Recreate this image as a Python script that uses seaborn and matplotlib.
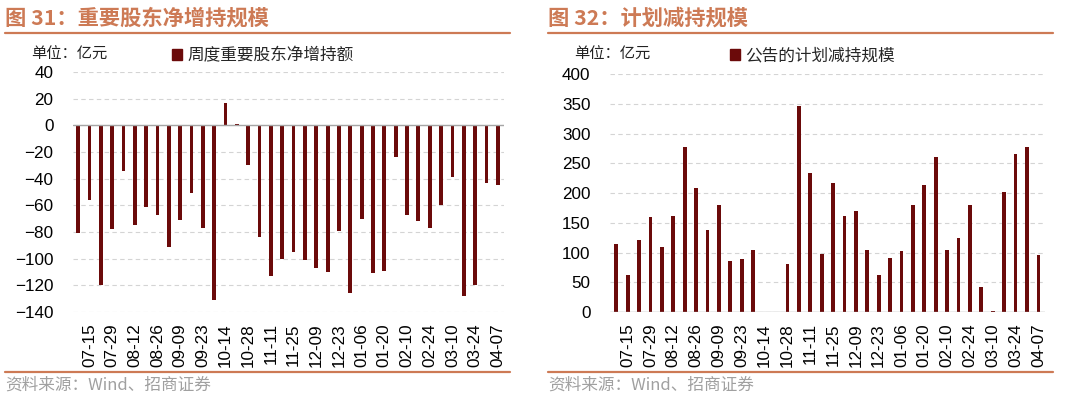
"""
Two panels: weekly net increase by major shareholders, and announced planned reductions.
"""

import numpy as np
import pandas as pd
import matplotlib.pyplot as plt
import seaborn as sns
from matplotlib.patches import Patch
from matplotlib.lines import Line2D

weeks = ["07-08", "07-15", "07-22", "07-29", "08-05", "08-12", "08-19", "08-26",
         "09-02", "09-09", "09-16", "09-23", "09-30", "10-14", "10-21", "10-28",
         "11-04", "11-11", "11-18", "11-25", "12-02", "12-09", "12-16", "12-23",
         "12-30", "01-06", "01-13", "01-20", "02-03", "02-10", "02-17", "02-24",
         "03-03", "03-10", "03-17", "03-24", "03-31", "04-07"]

# 周度重要股东净增持额 (亿元)
net_increase = [-81, -56, -120, -78, -34, -75, -61, -67, -91, -71, -51, -77, -131,
                17, 1, -30, -84, -113, -100, -95, -101, -107, -110, -79, -126,
                -70, -111, -109, -24, -67, -72, -77, -60, -39, -128, -120, -43, -45]

# 公告的计划减持规模 (亿元)
planned_reduce = [115, 62, 121, 159, 110, 162, 278, 209, 138, 180, 86, 89, 105,
                  0, 0, 81, 346, 234, 98, 217, 161, 170, 104, 63, 90, 102, 180,
                  213, 261, 105, 125, 180, 42, 1, 201, 265, 277, 96]

titles = ["图 31：重要股东净增持规模", "图 32：计划减持规模"]
legends = ["周度重要股东净增持额", "公告的计划减持规模"]
unit = "单位：亿元"
source = "资料来源：Wind、招商证券"

BAR = "#6B0A0A"
ACCENT = "#CD7A55"
GRID = "#D4D4D4"
CJK = ["Noto Sans CJK SC", "DejaVu Sans"]

sns.set_theme(style="white")
plt.rcParams["font.family"] = ["Liberation Sans", "Noto Sans CJK SC", "DejaVu Sans"]

fig = plt.figure(figsize=(10.8, 3.99), dpi=100)

panels = [
    dict(vals=net_increase, rect=[73 / 1080, 0.218, 431 / 1080, 0.6015],
         ylim=(-140, 40), yticks=range(-140, 41, 20), xlim=(-0.45, 37.55),
         x0=5, leg_x=172),
    dict(vals=planned_reduce, rect=[610 / 1080, 0.218, 435 / 1080, 0.5965],
         ylim=(0, 400), yticks=range(0, 401, 50), xlim=(-0.55, 37.58),
         x0=548, leg_x=730),
]

for i, p in enumerate(panels):
    ax = fig.add_axes(p["rect"])
    df = pd.DataFrame({"week": weeks, "value": p["vals"]})
    sns.barplot(data=df, x="week", y="value", color=BAR, width=0.33,
                saturation=1, linewidth=0, ax=ax)
    ax.set_ylim(*p["ylim"])
    ax.set_xlim(*p["xlim"])
    ax.set_yticks(list(p["yticks"]))
    ax.yaxis.grid(True, color=GRID, linestyle=(0, (4, 3)), linewidth=0.8)
    ax.set_axisbelow(True)
    for s in ax.spines.values():
        s.set_visible(False)
    ax.axhline(0, color="#A6A6A6", linewidth=1.0, zorder=1)
    ax.set_xticks(range(1, len(weeks), 2))
    ax.set_xticklabels(weeks[1::2], rotation=90)
    ax.tick_params(axis="x", length=0, pad=8, labelsize=12.3, colors="#000000")
    ax.tick_params(axis="y", length=0, pad=14, labelsize=12.3, colors="#000000")
    ax.set_xlabel("")
    ax.set_ylabel("")

    # header, rules and source
    x0 = p["x0"]
    fig.text(x0 / 1080, 1 - 18 / 399, titles[i], color=ACCENT, fontsize=15.3,
             fontweight="bold", family=CJK, va="center", ha="left")
    fig.add_artist(Line2D([x0 / 1080, (x0 + 505) / 1080], [1 - 33 / 399] * 2,
                          color=ACCENT, linewidth=1.6))
    fig.add_artist(Line2D([x0 / 1080, (x0 + 505) / 1080], [1 - 372 / 399] * 2,
                          color=ACCENT, linewidth=1.6))
    fig.text(x0 / 1080, 1 - 385 / 399, source, color="#A0A0A0", fontsize=12,
             family=CJK, va="center", ha="left")
    fig.text((x0 + 26) / 1080, 1 - 54 / 399, unit, color="#222222", fontsize=11,
             family=CJK, va="center", ha="left")
    leg = fig.legend(handles=[Patch(color=BAR, label=legends[i])],
                     loc="center left", bbox_to_anchor=(p["leg_x"] / 1080, 1 - 56 / 399),
                     frameon=False, handlelength=0.6, handleheight=0.6,
                     handletextpad=0.3, borderpad=0, borderaxespad=0,
                     prop={"family": CJK, "size": 12})

fig.savefig("out.png", dpi=100)
